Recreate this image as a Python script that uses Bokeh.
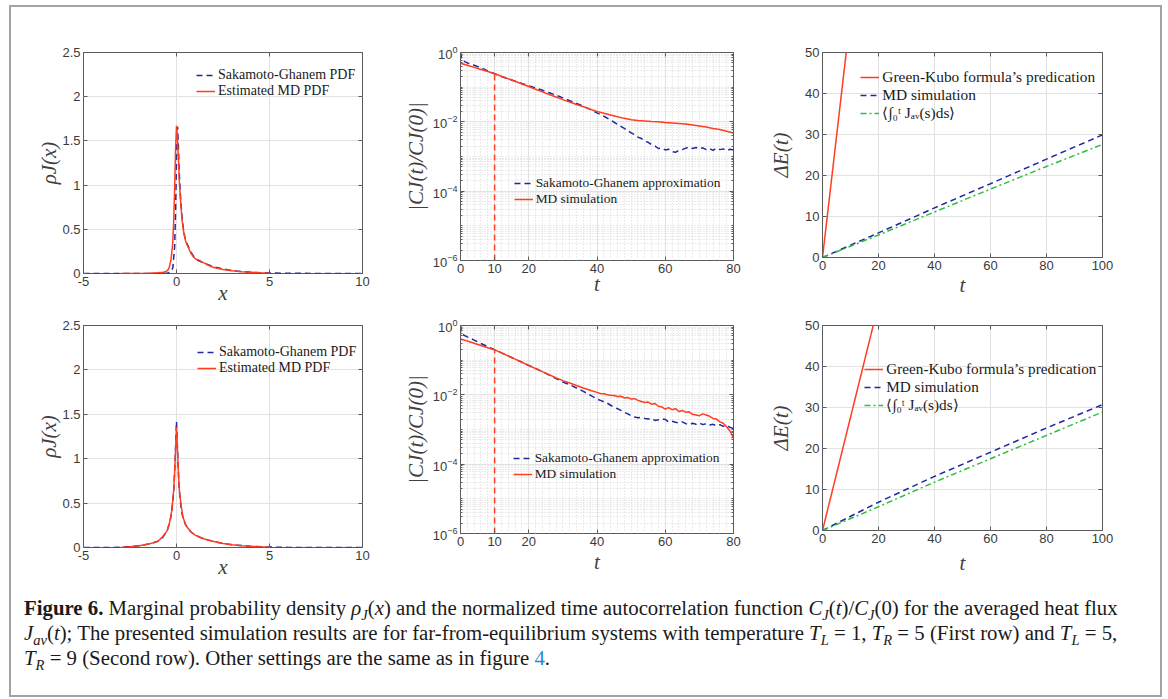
from bokeh.plotting import figure
from bokeh.models import (Range1d, FixedTicker, LinearAxis, LogAxis, Legend, LegendItem,
                          Div, CustomJSTickFormatter)
from bokeh.layouts import row, column
from bokeh.embed import file_html
from bokeh.resources import INLINE

# ------------------------------------------------------------------ data
# Row 1 (T_L=1, T_R=5): marginal PDF rho_J(x)
x_sg_r1 = [-5, -1, -0.5, -0.3, -0.2, -0.1, -0.05, 0, 0.03, 0.06, 0.1, 0.15, 0.2, 0.3, 0.4, 0.5,
           0.75, 1, 1.5, 2, 3, 4, 5, 6, 10]
rho_sg_r1 = [0, 0, 0.003, 0.02, 0.06, 0.3, 0.7, 1.3, 1.62, 1.66, 1.45, 1.15, 0.92, 0.63, 0.46, 0.37,
             0.25, 0.17, 0.115, 0.075, 0.03, 0.014, 0.006, 0.002, 0]
x_md_r1 = [-3, -2, -1.5, -1, -0.7, -0.5, -0.4, -0.3, -0.2, -0.15, -0.1, -0.05, 0, 0.05, 0.1, 0.15,
           0.2, 0.3, 0.4, 0.5, 0.6, 0.75, 0.9, 1.0, 1.2, 1.5, 1.75, 2.0, 2.5, 3.0, 3.5, 4.0, 4.5, 5.0]
rho_md_r1 = [0, 0.001, 0.003, 0.008, 0.015, 0.03, 0.06, 0.15, 0.35, 0.6, 0.95, 1.4, 1.67, 1.55, 1.3,
             1.05, 0.88, 0.6, 0.45, 0.36, 0.31, 0.24, 0.19, 0.17, 0.14, 0.117, 0.09, 0.068, 0.045,
             0.03, 0.02, 0.014, 0.008, 0.004]

# Row 2 (T_L=5, T_R=9): marginal PDF rho_J(x)
x_sg_r2 = [-5, -3.5, -3, -2.5, -2, -1.5, -1, -0.75, -0.5, -0.35, -0.25, -0.15, -0.1, -0.05, 0, 0.05,
           0.1, 0.15, 0.25, 0.35, 0.5, 0.75, 1, 1.5, 2, 2.5, 3, 4, 5, 6, 10]
rho_sg_r2 = [0, 0, 0.004, 0.01, 0.02, 0.04, 0.07, 0.11, 0.19, 0.29, 0.41, 0.63, 0.84, 1.12, 1.42, 1.13,
             0.85, 0.64, 0.44, 0.33, 0.25, 0.18, 0.14, 0.095, 0.068, 0.045, 0.03, 0.013, 0.005, 0.001, 0]
x_md_r2 = [-3, -2.5, -2, -1.5, -1.2, -1, -0.75, -0.5, -0.35, -0.25, -0.15, -0.1, -0.05, 0, 0.05, 0.1,
           0.15, 0.25, 0.35, 0.5, 0.75, 1, 1.25, 1.5, 2, 2.5, 3, 3.5, 4, 4.5, 5]
rho_md_r2 = [0, 0.008, 0.02, 0.04, 0.055, 0.07, 0.12, 0.19, 0.3, 0.42, 0.65, 0.85, 1.1, 1.36, 1.12, 0.86,
             0.65, 0.47, 0.34, 0.25, 0.18, 0.14, 0.115, 0.095, 0.068, 0.045, 0.03, 0.02, 0.013, 0.008, 0.004]

# Row 1: normalized autocorrelation |C_J(t)/C_J(0)|
t_md_r1 = list(range(0, 81, 2))
c_md_r1 = [0.490, 0.427, 0.372, 0.324, 0.282, 0.243, 0.207, 0.174, 0.148, 0.124, 0.105, 0.0871,
           0.0733, 0.0617, 0.0519, 0.0437, 0.0372, 0.0316, 0.0272, 0.0232, 0.0200, 0.0178, 0.0158,
           0.0141, 0.0126, 0.0115, 0.0110, 0.0106, 0.0102, 0.0100, 0.00955, 0.00933, 0.00902,
           0.00871, 0.00813, 0.00759, 0.00708, 0.00646, 0.00603, 0.00537, 0.00479]
t_sg_r1 = [0, 0.4] + list(range(2, 50, 2)) + list(range(50, 81))
c_sg_r1 = [1.0, 0.6, 0.50, 0.427, 0.363, 0.295, 0.243, 0.204, 0.174, 0.148, 0.127, 0.110, 0.0955,
           0.0813, 0.0692, 0.0589, 0.049, 0.0407, 0.0339, 0.0282, 0.0229, 0.0182, 0.0145, 0.0112,
           0.0085, 0.00646,
           0.00479, 0.00427, 0.00363, 0.00331, 0.00275, 0.00257, 0.00219, 0.0020, 0.0017, 0.00174,
           0.00155, 0.00162, 0.00138, 0.00132, 0.00151, 0.00158, 0.00174, 0.00186, 0.0017, 0.00182,
           0.00166, 0.00178, 0.00158, 0.0017, 0.00151, 0.00174, 0.00158, 0.00166, 0.00148, 0.00162,
           0.00155]

# Row 2: normalized autocorrelation |C_J(t)/C_J(0)|
t_md_r2 = list(range(0, 40, 2)) + list(range(40, 81))
c_md_r2 = [0.41, 0.355, 0.309, 0.266, 0.229, 0.198, 0.162, 0.132, 0.107, 0.0871, 0.0698, 0.0575,
           0.0468, 0.038, 0.0309, 0.0257, 0.0219, 0.0186, 0.0158, 0.0135,
           0.01175, 0.01096, 0.01072, 0.0100, 0.00977, 0.00955, 0.00891, 0.00912, 0.00813, 0.00832,
           0.00759, 0.00776, 0.00692, 0.00646, 0.00603, 0.00617, 0.00537, 0.00562, 0.00468, 0.00447,
           0.00389, 0.00427, 0.00372, 0.00398, 0.00331, 0.00355, 0.00316, 0.00324, 0.00275, 0.00263,
           0.00251, 0.00282, 0.00263, 0.0024, 0.00209, 0.0020, 0.00166, 0.00151, 0.0012, 0.00089,
           0.00056]
t_sg_r2 = [0, 0.4] + list(range(2, 40, 2)) + list(range(40, 81))
c_sg_r2 = [1.0, 0.56, 0.468, 0.38, 0.302, 0.245, 0.2, 0.162, 0.132, 0.107, 0.0871, 0.0708, 0.0575,
           0.0468, 0.0372, 0.0295, 0.0234, 0.0195, 0.0158, 0.0126, 0.00977,
           0.00759, 0.00692, 0.00631, 0.00575, 0.00501, 0.00437, 0.00398, 0.00355, 0.00316, 0.00282,
           0.00251, 0.00229, 0.00219, 0.00224, 0.00209, 0.0020, 0.00209, 0.00182, 0.00191, 0.00204,
           0.00195, 0.00166, 0.00174, 0.00162, 0.00155, 0.00166, 0.00148, 0.00138, 0.00151, 0.00141,
           0.00155, 0.00138, 0.00148, 0.00135, 0.00141, 0.00129, 0.00138, 0.00123, 0.00132, 0.00115,
           0.00107]

# cut-off time marker (dashed vertical line at t = 10)
t_cut = [10, 10]
c_cut_r1 = [1e-6, 0.243]
c_cut_r2 = [1e-6, 0.198]

# Energy transfer Delta E(t)
t_gk = [0, 20]
de_gk_r1 = [0, 118]
de_gk_r2 = [0, 55.2]
t_de = [0, 20, 40, 60, 80, 100]
de_md_r1 = [0, 6.0, 12.1, 18.0, 24.0, 29.9]
de_int_r1 = [0, 5.5, 11.1, 16.7, 22.2, 27.6]
de_md_r2 = [0, 6.9, 13.2, 19.1, 25.0, 30.7]
de_int_r2 = [0, 5.8, 11.8, 17.5, 23.2, 28.9]

# ticks
pdf_xticks = [-5, 0, 5, 10]
pdf_yticks = [0, 0.5, 1, 1.5, 2, 2.5]
ac_xticks = [0, 10, 20, 40, 60, 80]
ac_xminor = list(range(0, 81, 2))
ac_yticks = [1e-6, 1e-4, 1e-2, 1]
ac_yminor = [k * 10.0 ** e for e in range(-6, 0) for k in range(1, 10)]
de_xticks = [0, 20, 40, 60, 80, 100]
de_yticks = [0, 10, 20, 30, 40, 50]

# ------------------------------------------------------------------ style
RED = "#ff3d1f"
BLUE = "#1f2a9c"
GREEN = "#2fbf40"
GRID = "#e2e2e2"
MINOR = "#d6d6d6"
FRAME = "#5a5a5a"
TICKC = "#3b3b3b"
TICK_FONT = "Liberation Sans"
SERIF = "Liberation Serif"


def lin_fmt():
    return CustomJSTickFormatter(code="return String(tick);")


def blank_fmt():
    return CustomJSTickFormatter(code="return '';")


def style_axis(a, ticker, fmt, log_minor=False):
    a.ticker = ticker
    a.formatter = fmt
    a.axis_line_color = None
    a.major_tick_in = 4
    a.major_tick_out = 0
    a.major_tick_line_color = FRAME
    a.minor_tick_in = 2
    a.minor_tick_out = 0
    a.minor_tick_line_color = FRAME if log_minor else None
    a.major_label_text_font = TICK_FONT
    a.major_label_text_font_size = "13px"
    a.major_label_text_color = TICKC
    a.major_label_standoff = 3
    a.axis_label_text_font = SERIF
    a.axis_label_text_font_style = "italic"
    a.axis_label_text_font_size = "21px"
    a.axis_label_text_color = "#404040"


def panel(fw, fh, ml, mr, mt, mb, xr, yr, xt, yt, xlabel, ylabel, xstand, ystand,
          log=False, xminor=None, yminor=None):
    p = figure(frame_width=fw, frame_height=fh, min_border_left=ml, min_border_right=mr,
               min_border_top=mt, min_border_bottom=mb, x_range=Range1d(*xr), y_range=Range1d(*yr),
               y_axis_type="log" if log else "linear", output_backend="svg",
               toolbar_location=None, title=None)
    p.outline_line_color = FRAME
    p.outline_line_width = 1
    xtk = FixedTicker(ticks=xt, minor_ticks=xminor or [])
    ytk = FixedTicker(ticks=yt, minor_ticks=yminor or [])
    xa = p.xaxis[0]
    ya = p.yaxis[0]
    style_axis(xa, xtk, lin_fmt())
    style_axis(ya, ytk, ya.formatter if log else lin_fmt(), log_minor=log)
    xa.axis_label = xlabel
    ya.axis_label = ylabel
    xa.axis_label_standoff = xstand
    ya.axis_label_standoff = ystand
    p.xgrid[0].ticker = xtk
    p.ygrid[0].ticker = ytk
    for g in (p.xgrid[0], p.ygrid[0]):
        g.grid_line_color = GRID
        g.grid_line_width = 1
    if xminor:
        p.xgrid[0].minor_grid_line_color = MINOR
        p.xgrid[0].minor_grid_line_dash = "1 2"
    if yminor:
        p.ygrid[0].minor_grid_line_color = MINOR
        p.ygrid[0].minor_grid_line_dash = "1 2"
    top = LinearAxis(axis_label=None)
    style_axis(top, xtk, blank_fmt())
    top.major_label_text_font_size = "0px"
    top.major_label_standoff = 0
    p.add_layout(top, "above")
    right = LogAxis(axis_label=None) if log else LinearAxis(axis_label=None)
    style_axis(right, ytk, blank_fmt(), log_minor=log)
    right.major_label_text_font_size = "0px"
    right.major_label_standoff = 0
    p.add_layout(right, "right")
    return p


def add_legend(p, items, loc, lh, fs):
    leg = Legend(items=[LegendItem(label=l, renderers=[r]) for l, r in items], location=loc,
                 padding=0, margin=0, spacing=0, label_height=lh, glyph_height=lh, glyph_width=19,
                 label_standoff=3, background_fill_alpha=0, border_line_color=None,
                 label_text_font=SERIF, label_text_font_size=fs, label_text_color="#1a1a1a")
    p.add_layout(leg)


DASH = "6 4"
DASHDOT = "6 3 2 3"

# ------------------------------------------------------------------ row 1
p1 = panel(280, 221, 72, 37, 45, 42, (-5, 10), (0, 2.5), pdf_xticks, pdf_yticks, "x", "ρJ(x)", -8, -2)
b1 = p1.line(x_sg_r1, rho_sg_r1, line_color=BLUE, line_width=1.5, line_dash=DASH)
r1 = p1.line(x_md_r1, rho_md_r1, line_color=RED, line_width=1.5)
add_legend(p1, [("Sakamoto-Ghanem PDF", b1), ("Estimated MD PDF", r1)], (113, 174), 16, "14px")

p2 = panel(274, 208, 59, 30, 44, 56, (0, 80), (1e-6, 1), ac_xticks, ac_yticks, "t", "|CJ(t)/CJ(0)|",
           -4, 2, log=True, xminor=ac_xminor, yminor=ac_yminor)
b2 = p2.line(t_sg_r1, c_sg_r1, line_color=BLUE, line_width=1.5, line_dash=DASH)
r2 = p2.line(t_md_r1, c_md_r1, line_color=RED, line_width=1.5)
p2.line(t_cut, c_cut_r1, line_color=RED, line_width=1.5, line_dash=DASH)
add_legend(p2, [("Sakamoto-Ghanem approximation", b2), ("MD simulation", r2)], (54, 53), 16, "13.4px")

p3 = panel(281, 205, 59, 57, 45, 58, (0, 100), (0, 50), de_xticks, de_yticks, "t", "ΔE(t)", 0, 9)
g3 = p3.line(t_gk, de_gk_r1, line_color=RED, line_width=1.5)
m3 = p3.line(t_de, de_md_r1, line_color=BLUE, line_width=1.5, line_dash=DASH)
i3 = p3.line(t_de, de_int_r1, line_color=GREEN, line_width=1.5, line_dash=DASHDOT)
add_legend(p3, [("Green-Kubo formula’s predication", g3), ("MD simulation", m3),
                ("⟨∫₀ᵗ Jₐᵥ(s)ds⟩", i3)], (38, 135), 18, "15.4px")

# ------------------------------------------------------------------ row 2
p4 = panel(280, 222, 72, 37, 10, 43, (-5, 10), (0, 2.5), pdf_xticks, pdf_yticks, "x", "ρJ(x)", -8, -2)
b4 = p4.line(x_sg_r2, rho_sg_r2, line_color=BLUE, line_width=1.5, line_dash=DASH)
r4 = p4.line(x_md_r2, rho_md_r2, line_color=RED, line_width=1.5)
add_legend(p4, [("Sakamoto-Ghanem PDF", b4), ("Estimated MD PDF", r4)], (114, 171), 16, "14px")

p5 = panel(274, 208, 59, 30, 10, 57, (0, 80), (1e-6, 1), ac_xticks, ac_yticks, "t", "|CJ(t)/CJ(0)|",
           1, 2, log=True, xminor=ac_xminor, yminor=ac_yminor)
b5 = p5.line(t_sg_r2, c_sg_r2, line_color=BLUE, line_width=1.5, line_dash=DASH)
r5 = p5.line(t_md_r2, c_md_r2, line_color=RED, line_width=1.5)
p5.line(t_cut, c_cut_r2, line_color=RED, line_width=1.5, line_dash=DASH)
add_legend(p5, [("Sakamoto-Ghanem approximation", b5), ("MD simulation", r5)], (53, 51), 16, "13.4px")

p6 = panel(281, 205, 59, 57, 10, 60, (0, 100), (0, 50), de_xticks, de_yticks, "t", "ΔE(t)", 5, 9)
g6 = p6.line(t_gk, de_gk_r2, line_color=RED, line_width=1.5)
m6 = p6.line(t_de, de_md_r2, line_color=BLUE, line_width=1.5, line_dash=DASH)
i6 = p6.line(t_de, de_int_r2, line_color=GREEN, line_width=1.5, line_dash=DASHDOT)
add_legend(p6, [("Green-Kubo formula’s predication", g6), ("MD simulation", m6),
                ("⟨∫₀ᵗ Jₐᵥ(s)ds⟩", i6)], (42, 116), 18, "15.2px")

# ------------------------------------------------------------------ caption
SUB = '<sub style="line-height:0;font-size:70%">'
caption_html = (
    '<div style="padding:0 0 0 8px; font-family:\'Liberation Serif\'; font-size:20.8px; '
    'line-height:25px; white-space:nowrap; color:#1a1a1a;">'
    '<b>Figure 6.</b> Marginal probability density <i>ρ' + SUB + 'J</sub></i>(<i>x</i>) and the normalized '
    'time autocorrelation function <i>C' + SUB + 'J</sub></i>(<i>t</i>)/<i>C' + SUB + 'J</sub></i>(0) '
    'for the averaged heat flux<br>'
    '<i>J' + SUB + 'av</sub></i>(<i>t</i>); The presented simulation results are for far-from-equilibrium systems '
    'with temperature <i>T' + SUB + 'L</sub></i> = 1, <i>T' + SUB + 'R</sub></i> = 5 (First row) and '
    '<i>T' + SUB + 'L</sub></i> = 5,<br>'
    '<i>T' + SUB + 'R</sub></i> = 9 (Second row). Other settings are the same as in figure '
    '<span style="color:#1f8dd6">4</span>.</div>'
)
cap = Div(text=caption_html, width=1149, height=105)

layout = column(row(p1, p2, p3), row(p4, p5, p6), cap, width=1153, height=692,
                styles={"border": "2px solid #a3a3a3", "margin-top": "5px", "margin-left": "9px",
                        "background": "white"})

open("out.html", "w").write(file_html(layout, INLINE))
